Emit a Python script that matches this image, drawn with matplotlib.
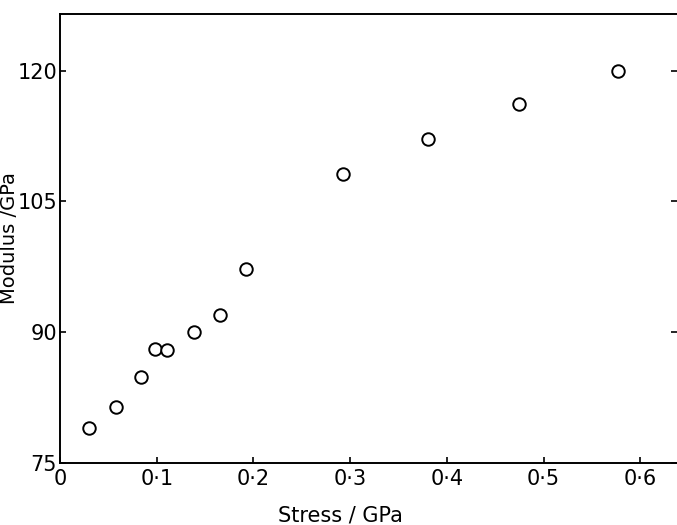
import matplotlib.pyplot as plt

plt.rcParams["font.family"] = ["Liberation Sans Narrow", "DejaVu Sans"]

stress = [0.030, 0.058, 0.084, 0.098, 0.111, 0.139, 0.165, 0.192, 0.293, 0.381, 0.475, 0.577]
modulus = [79.0, 81.4, 84.9, 88.1, 88.0, 90.0, 92.0, 97.3, 108.2, 112.2, 116.2, 120.0]

xticks = [0, 0.1, 0.2, 0.3, 0.4, 0.5, 0.6]
xticklabels = ["0", "0·1", "0·2", "0·3", "0·4", "0·5", "0·6"]
yticks = [75, 90, 105, 120]

W, H = 677, 525
fig = plt.figure(figsize=(W / 100, H / 100), dpi=100)
ax = fig.add_axes([60 / W, 62 / H, (W - 60) / W, (463 - 14) / H])

ax.plot(stress, modulus, linestyle="none", marker="o", markersize=9,
        markerfacecolor="white", markeredgecolor="black", markeredgewidth=1.4)

ax.set_xlim(0, 617 / 967)
ax.set_ylim(75, 126.5)
ax.set_xticks(xticks)
ax.set_xticklabels(xticklabels)
ax.set_yticks(yticks)

ax.spines["right"].set_visible(False)
for s in ["left", "bottom", "top"]:
    ax.spines[s].set_linewidth(1.4)

ax.tick_params(axis="both", direction="in", length=4, width=1.2,
               labelsize=15, pad=4, right=True)
ax.tick_params(axis="y", pad=2)

ax.set_xlabel("Stress / GPa", fontsize=15, family="DejaVu Sans")
ax.xaxis.set_label_coords(0.455, -0.095)
ax.set_ylabel("Modulus /GPa", fontsize=14, family="DejaVu Sans")
ax.yaxis.set_label_coords(-0.066, 0.5)

fig.savefig("out.png", dpi=100)
